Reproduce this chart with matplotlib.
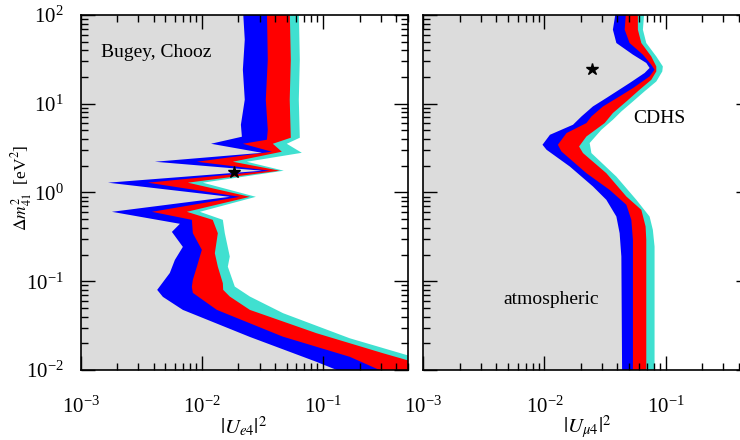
import matplotlib
matplotlib.use("Agg")
import matplotlib.pyplot as plt
from matplotlib.ticker import LogLocator, LogFormatterMathtext, NullFormatter

plt.rcParams['font.family'] = ['Liberation Serif', 'DejaVu Serif']
plt.rcParams['mathtext.fontset'] = 'stix'

# ---------------- data: left panel (|U_e4|^2 vs dm41^2) ----------------
# each boundary: gray|blue, blue|red, red|turquoise, turquoise|white
e_blue_x = [0.0218, 0.0226, 0.0218, 0.0226, 0.0210, 0.0214, 0.0119, 0.0313, 0.0041, 0.0313, 0.00168, 0.0170,
            0.00181, 0.00659, 0.00566, 0.00697, 0.00599, 0.00544, 0.00428, 0.00477, 0.00697, 0.0249, 0.0887, 0.130, 0.17]
e_blue_y = [120, 52.7, 24.2, 11.1, 5.80, 4.25, 3.54, 2.80, 2.22, 1.76, 1.29, 0.894,
            0.606, 0.444, 0.360, 0.244, 0.174, 0.124, 0.080, 0.0667, 0.0476, 0.0236, 0.01234, 0.0100, 0.0085]

e_red_x = [0.0344, 0.0350, 0.0337, 0.0350, 0.0344, 0.0218, 0.0378, 0.0091, 0.0364, 0.00359, 0.02057,
           0.00387, 0.00827, 0.00843, 0.0100, 0.0091, 0.00843, 0.00827, 0.00843, 0.0133, 0.0465, 0.166, 0.293, 0.40]
e_red_y = [120, 31.3, 11.1, 5.09, 3.93, 3.54, 2.88, 2.22, 1.76, 1.29, 0.894,
           0.606, 0.492, 0.348, 0.226, 0.146, 0.104, 0.0865, 0.074, 0.0476, 0.0238, 0.0141, 0.0100, 0.0085]

e_turq_x = [0.0531, 0.0542, 0.0531, 0.0542, 0.0385, 0.0457, 0.0180, 0.0440, 0.00767, 0.0249,
            0.00752, 0.0123, 0.01355, 0.0128, 0.01355, 0.0149, 0.0150, 0.0170, 0.0249, 0.0883, 0.3124, 0.487, 0.7]
e_turq_y = [120, 31.3, 11.1, 4.14, 3.54, 2.88, 2.22, 1.76, 1.29, 0.894,
            0.606, 0.492, 0.348, 0.207, 0.146, 0.0952, 0.080, 0.0673, 0.0476, 0.026, 0.01547, 0.0130, 0.0115]

e_white_x = [0.0631, 0.0643, 0.0631, 0.0643, 0.0502, 0.0668, 0.0235, 0.0474, 0.0102, 0.0279,
             0.00963, 0.0149, 0.01547, 0.0170, 0.01638, 0.0187, 0.0249, 0.0468, 0.166, 0.487, 0.7]
e_white_y = [120, 31.3, 11.1, 4.14, 3.54, 2.80, 2.22, 1.76, 1.29, 0.894,
             0.606, 0.492, 0.348, 0.190, 0.146, 0.0871, 0.0673, 0.0437, 0.0228, 0.0148, 0.0135]

# ---------------- data: right panel (|U_mu4|^2 vs dm41^2) ----------------
m_blue_x = [0.0392, 0.0367, 0.0392, 0.0537, 0.0692, 0.0737, 0.0670, 0.0504, 0.0324, 0.0251, 0.0202, 0.0172,
            0.0111, 0.00963, 0.0104, 0.0162, 0.0251, 0.0324, 0.0392, 0.0417, 0.0431, 0.0437, 0.0437]
m_blue_y = [120, 68.3, 48.3, 35.7, 28.8, 25.3, 22.2, 17.1, 11.6, 9.32, 7.19, 5.80,
            4.47, 3.45, 3.03, 1.96, 1.17, 0.827, 0.536, 0.348, 0.190, 0.01, 0.008]

m_red_x = [0.0474, 0.0459, 0.0504, 0.0649, 0.0761, 0.0810, 0.0737, 0.0537, 0.0417, 0.0304, 0.0244, 0.0222,
           0.0152, 0.0129, 0.0138, 0.0222, 0.0345, 0.0474, 0.0521, 0.0537, 0.0537]
m_red_y = [120, 68.3, 48.3, 35.7, 27.5, 24.2, 20.3, 15.0, 12.1, 9.32, 7.19, 6.06,
           4.67, 3.45, 2.90, 1.65, 1.07, 0.727, 0.492, 0.293, 0.008]

m_turq_x = [0.0590, 0.0590, 0.0630, 0.0761, 0.0837, 0.0837, 0.0761, 0.0610, 0.0474, 0.0367, 0.0314, 0.0222,
            0.0193, 0.0208, 0.0324, 0.0474, 0.0630, 0.0683, 0.0692, 0.0692]
m_turq_y = [120, 68.3, 48.3, 34.1, 26.3, 23.1, 18.6, 14.4, 10.6, 7.86, 6.06, 4.28,
            3.30, 2.78, 1.65, 0.901, 0.638, 0.414, 0.293, 0.008]

m_white_x = [0.0670, 0.0649, 0.0692, 0.0837, 0.0948, 0.0938, 0.0837, 0.0670, 0.0537, 0.0431, 0.0367, 0.0295,
             0.0236, 0.0244, 0.0392, 0.0573, 0.0737, 0.0784, 0.0810, 0.0810]
m_white_y = [120, 68.3, 48.3, 34.1, 26.3, 23.1, 17.8, 13.8, 10.6, 8.19, 6.60, 5.09,
             3.61, 2.78, 1.51, 0.827, 0.536, 0.380, 0.246, 0.008]

best_fit_e = (0.0185, 1.71)
best_fit_mu = (0.0245, 24.8)

x_limits = (1e-3, 0.5)
y_limits = (1e-2, 1e2)

GRAY = '#dcdcdc'
BLUE = '#0000ff'
RED = '#ff0000'
TURQ = '#40e0d0'


def region_left_of(ax, xs, ys, color):
    far_left = 1e-5
    px = list(xs) + [xs[-1], far_left, far_left, xs[0]]
    py = list(ys) + [1e-4, 1e-4, 1e4, 1e4]
    ax.fill(px, py, color=color, lw=0, zorder=1)


def style_axes(ax, left_labels=True):
    ax.set_xscale('log')
    ax.set_yscale('log')
    ax.set_xlim(*x_limits)
    ax.set_ylim(*y_limits)
    ax.set_facecolor('white')
    for sp in ax.spines.values():
        sp.set_linewidth(1.2)
        sp.set_zorder(5)
    ax.xaxis.set_major_locator(LogLocator(base=10, numticks=10))
    ax.xaxis.set_minor_locator(LogLocator(base=10, subs=range(2, 10), numticks=10))
    ax.yaxis.set_major_locator(LogLocator(base=10, numticks=10))
    ax.yaxis.set_minor_locator(LogLocator(base=10, subs=range(2, 10), numticks=10))
    ax.xaxis.set_major_formatter(LogFormatterMathtext())
    ax.xaxis.set_minor_formatter(NullFormatter())
    ax.yaxis.set_minor_formatter(NullFormatter())
    if left_labels:
        ax.yaxis.set_major_formatter(LogFormatterMathtext())
    else:
        ax.yaxis.set_major_formatter(NullFormatter())
    ax.tick_params(which='both', direction='in', top=True, right=True, width=1.0, zorder=6)
    ax.tick_params(which='major', length=10)
    ax.tick_params(which='minor', length=5)
    ax.tick_params(axis='x', which='major', pad=19, labelsize=15)
    ax.tick_params(axis='y', which='major', pad=12, labelsize=15)


fig = plt.figure(figsize=(7.4, 4.4), dpi=100)
axL = fig.add_axes([0.109, 0.159, 0.442, 0.807])
axR = fig.add_axes([0.572, 0.159, 0.442, 0.807])

for ax, curves in ((axL, [(e_white_x, e_white_y, TURQ), (e_turq_x, e_turq_y, RED),
                          (e_red_x, e_red_y, BLUE), (e_blue_x, e_blue_y, GRAY)]),
                   (axR, [(m_white_x, m_white_y, TURQ), (m_turq_x, m_turq_y, RED),
                          (m_red_x, m_red_y, BLUE), (m_blue_x, m_blue_y, GRAY)])):
    for xs, ys, c in curves:
        region_left_of(ax, xs, ys, c)

style_axes(axL, True)
style_axes(axR, False)

axL.plot(*best_fit_e, marker='*', color='black', ms=9, zorder=4, ls='none')
axR.plot(*best_fit_mu, marker='*', color='black', ms=9, zorder=4, ls='none')

axL.text(0.00147, 38, 'Bugey, Chooz', fontsize=14, va='center', ha='left', zorder=4)
axR.text(0.089, 6.9, 'CDHS', fontsize=14, va='center', ha='center', zorder=4)
axR.text(0.0113, 0.0617, 'atmospheric', fontsize=14, va='center', ha='center', zorder=4)

fig.text(244 / 740, 1 - 427 / 440, r'$|U_{e4}|^2$', fontsize=15, ha='center', va='center')
fig.text(587 / 740, 1 - 427 / 440, r'$|U_{\mu4}|^2$', fontsize=15, ha='center', va='center')
fig.text(22 / 740, 1 - 188 / 440, r'$\Delta m^2_{41}$  [eV$^2$]', fontsize=12.5,
         rotation=90, ha='center', va='center')

fig.savefig('out.png', dpi=100)
